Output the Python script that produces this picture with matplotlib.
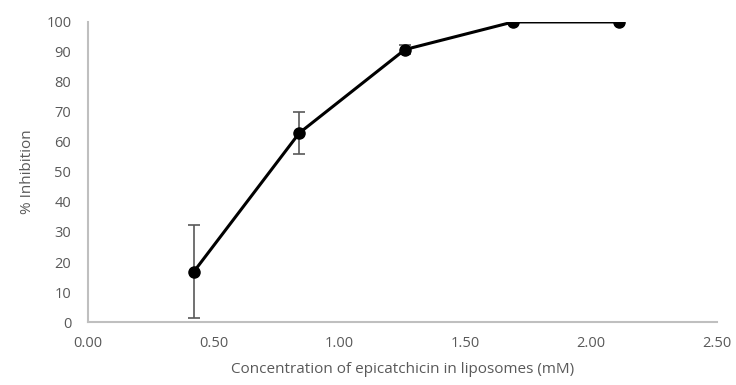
import numpy as np
import matplotlib.pyplot as plt

plt.rcParams['font.family'] = ['Open Sans', 'DejaVu Sans']

conc = [0.42, 0.84, 1.26, 1.69, 2.11]
inhibition = [16.7, 63.0, 90.8, 100.0, 100.0]
err = [15.5, 7.0, 1.5, 0.0, 0.0]

xticks = [0.0, 0.5, 1.0, 1.5, 2.0, 2.5]
yticks = list(range(0, 101, 10))

fig = plt.figure(figsize=(7.36, 3.85), dpi=100)
ax = fig.add_axes([0.1196, 0.1636, 0.8544, 0.7794])

ax.errorbar(conc, inhibition, yerr=err, fmt='none', ecolor='#595959',
            elinewidth=1.2, capsize=4, capthick=1.2, zorder=2)
ax.plot(conc, inhibition, color='black', lw=2.2, marker='o', ms=8, zorder=3)

ax.set_xlim(0, 2.5)
ax.set_ylim(0, 100)
ax.set_xticks(xticks)
ax.set_xticklabels(['%.2f' % t for t in xticks])
ax.set_yticks(yticks)

for s in ['top', 'right']:
    ax.spines[s].set_visible(False)
for s in ['left', 'bottom']:
    ax.spines[s].set_color('#bfbfbf')
    ax.spines[s].set_linewidth(1.5)

ax.tick_params(length=0, labelsize=10.5, labelcolor='#595959')
ax.tick_params(axis='x', pad=10)
ax.tick_params(axis='y', pad=12)

ax.set_xlabel('Concentration of epicatchicin in liposomes (mM)', fontsize=11, color='#595959', labelpad=8)
ax.set_ylabel('% Inhibition', fontsize=11, color='#595959', labelpad=8)

fig.savefig('out.png', dpi=100)
